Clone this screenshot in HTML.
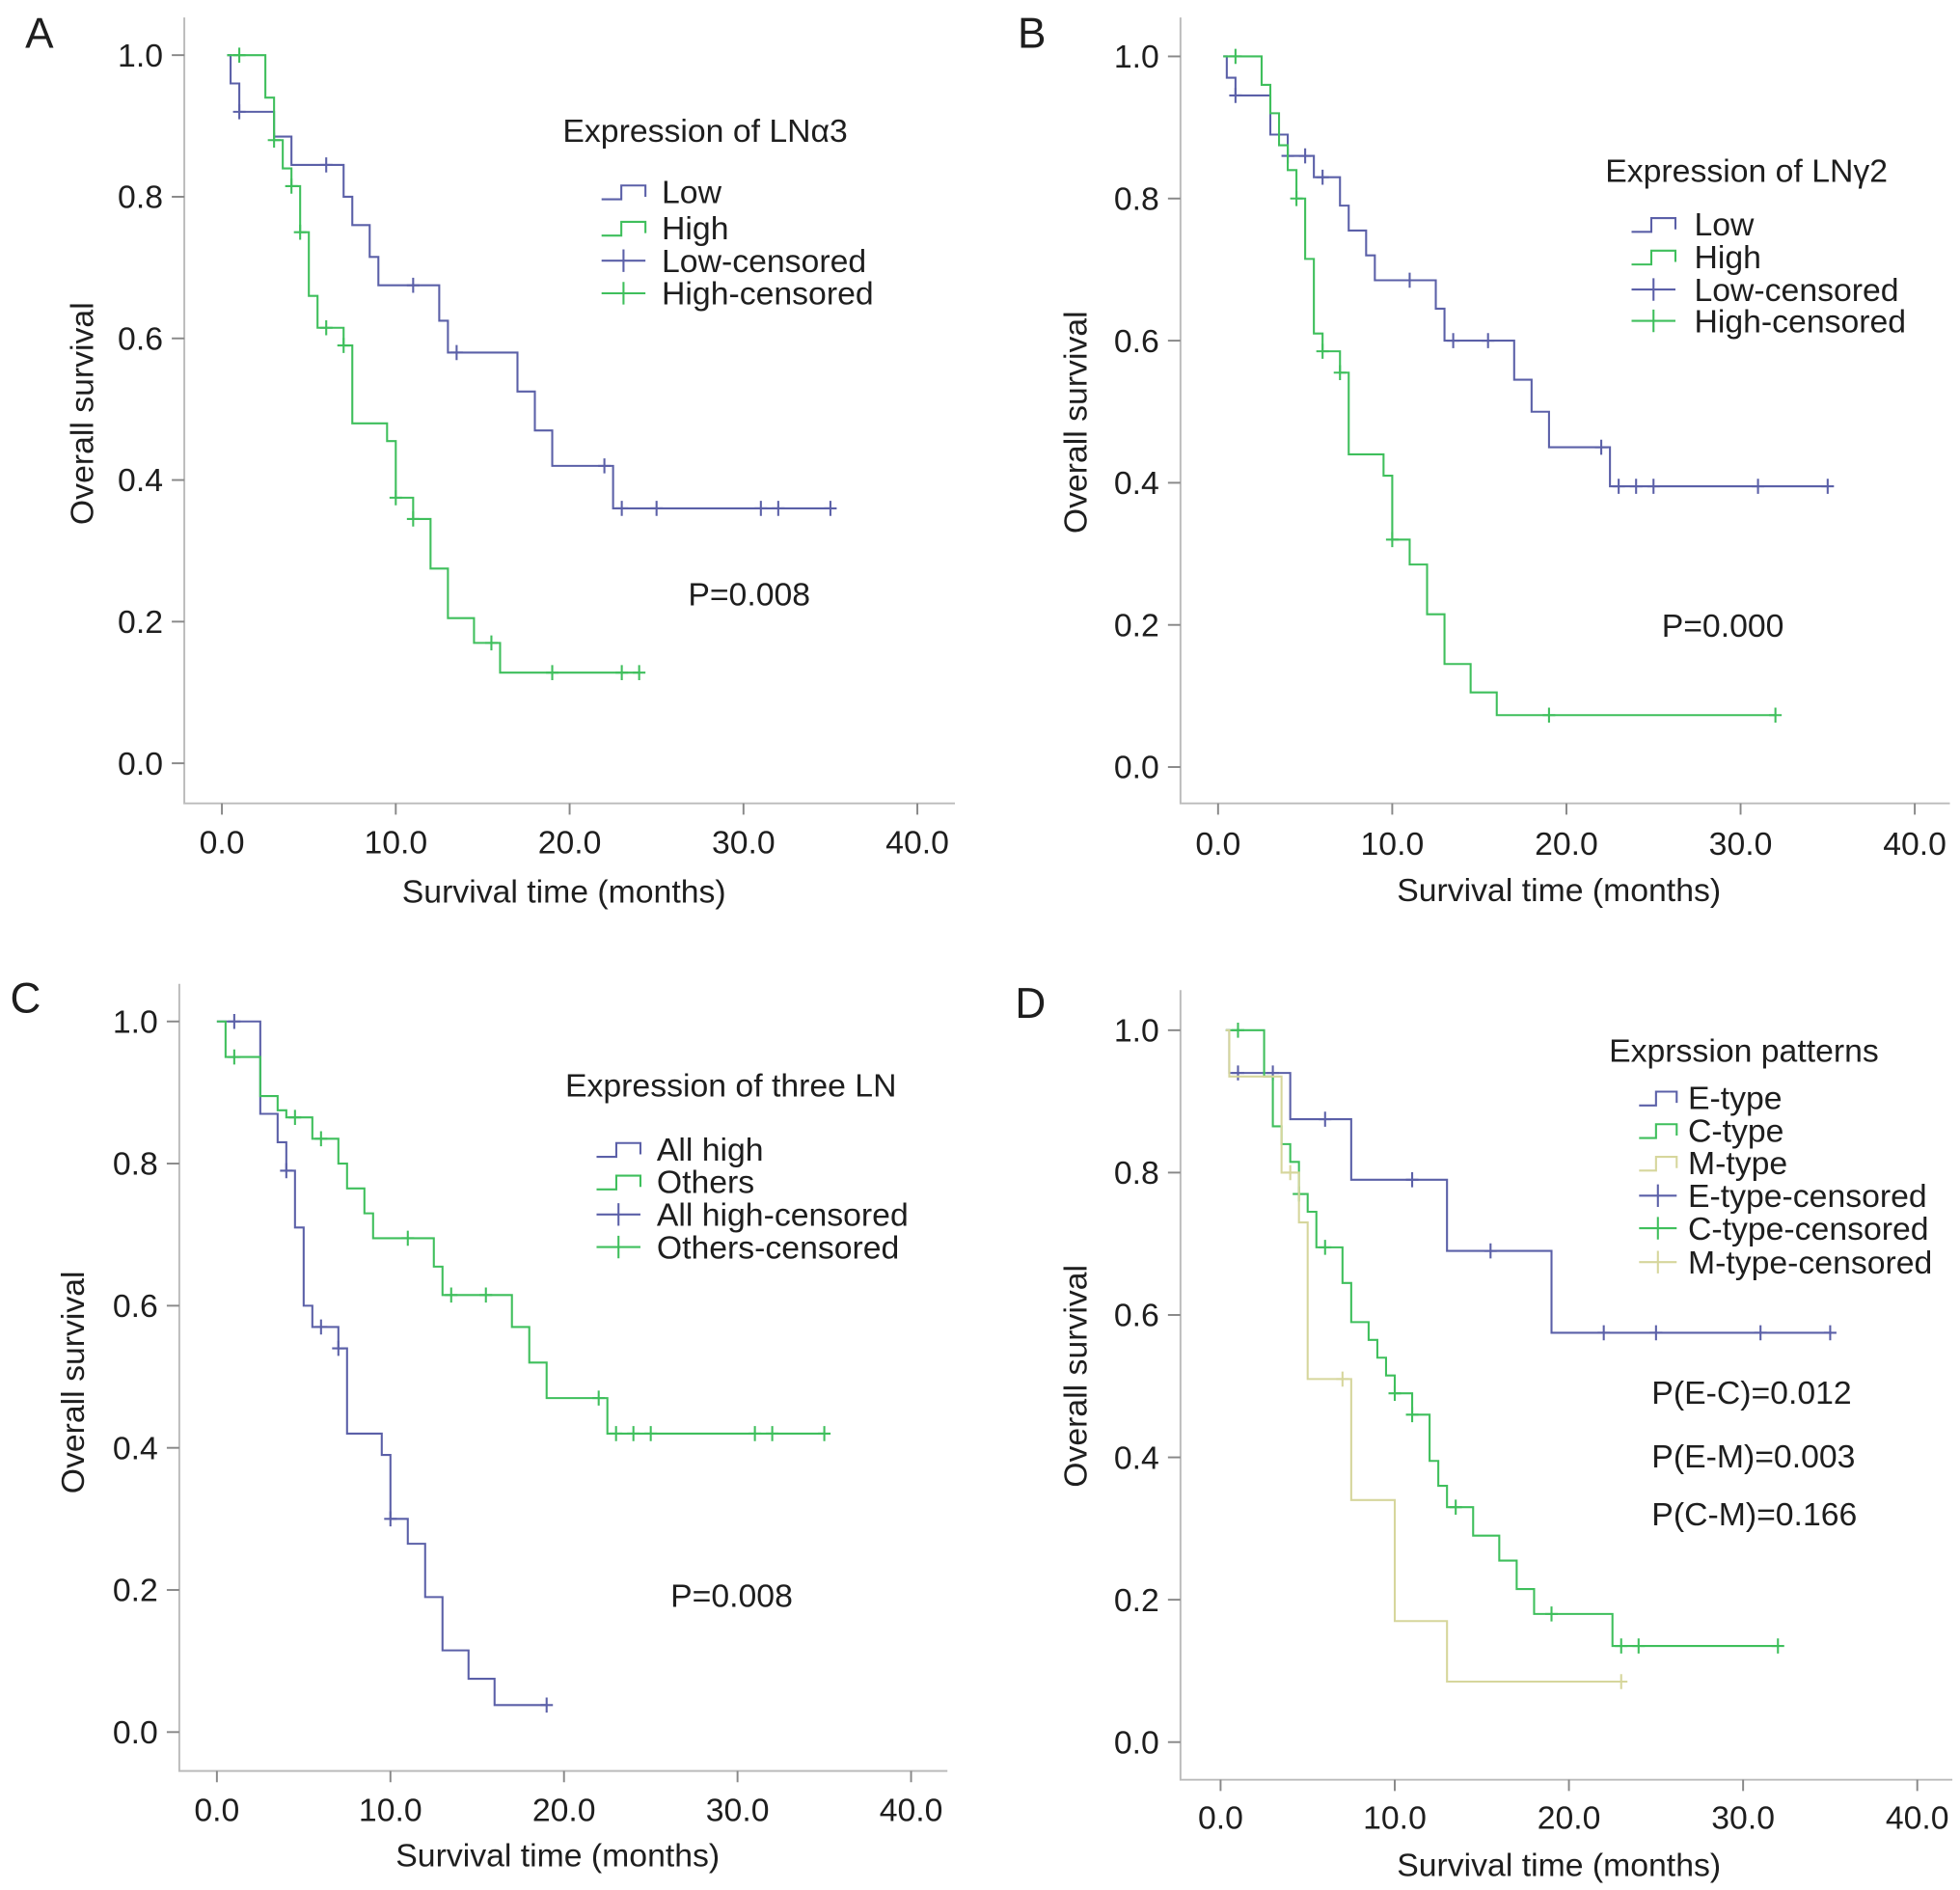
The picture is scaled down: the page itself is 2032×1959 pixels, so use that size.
<!DOCTYPE html>
<html><head><meta charset="utf-8"><style>
html,body{margin:0;padding:0;background:#fff}
svg{display:block}
text{font-family:"Liberation Sans",sans-serif;fill:#1e1e1e}
</style></head><body>
<svg id="fig" width="2032" height="1959" viewBox="0 0 1564 1508" xmlns="http://www.w3.org/2000/svg"></svg>
<script>
// ---- data ----
const xTicks = [0, 10, 20, 30, 40];
const xTickLabels = ["0.0", "10.0", "20.0", "30.0", "40.0"];
const yTicks = [0, 0.2, 0.4, 0.6, 0.8, 1.0];
const yTickLabels = ["0.0", "0.2", "0.4", "0.6", "0.8", "1.0"];

const aLowTimes = [0.3, 0.5, 1, 3, 4, 7, 7.5, 8.5, 9, 12.5, 13, 17, 18, 19, 22.5, 35];
const aLowSurv  = [1.0, 0.96, 0.92, 0.885, 0.845, 0.80, 0.76, 0.715, 0.675, 0.625, 0.58, 0.525, 0.47, 0.42, 0.36, 0.36];
const aLowCensT = [1, 6, 11, 13.5, 22, 23, 25, 31, 32, 35];
const aLowCensS = [0.92, 0.845, 0.675, 0.58, 0.42, 0.36, 0.36, 0.36, 0.36, 0.36];
const aHighTimes = [0.3, 2.5, 3, 3.5, 4, 4.5, 5, 5.5, 7, 7.5, 9.5, 10, 11, 12, 13, 14.5, 16, 24];
const aHighSurv  = [1.0, 0.94, 0.88, 0.84, 0.815, 0.75, 0.66, 0.615, 0.59, 0.48, 0.455, 0.375, 0.345, 0.275, 0.205, 0.17, 0.128, 0.128];
const aHighCensT = [1, 3, 4, 4.5, 6, 7, 10, 11, 15.5, 19, 23, 24];
const aHighCensS = [1.0, 0.88, 0.815, 0.75, 0.615, 0.59, 0.375, 0.345, 0.17, 0.128, 0.128, 0.128];

const bLowTimes = [0.3, 0.5, 1, 3, 4, 5.5, 7, 7.5, 8.5, 9, 12.5, 13, 17, 18, 19, 22.5, 35];
const bLowSurv  = [1.0, 0.97, 0.945, 0.89, 0.86, 0.83, 0.79, 0.755, 0.72, 0.685, 0.645, 0.60, 0.545, 0.50, 0.45, 0.395, 0.395];
const bLowCensT = [1, 4, 5, 6, 11, 13.5, 15.5, 22, 23, 24, 25, 31, 35];
const bLowCensS = [0.945, 0.86, 0.86, 0.83, 0.685, 0.60, 0.60, 0.45, 0.395, 0.395, 0.395, 0.395, 0.395];
const bHighTimes = [0.3, 2.5, 3, 3.5, 4, 4.5, 5, 5.5, 6, 7, 7.5, 9.5, 10, 11, 12, 13, 14.5, 16, 32];
const bHighSurv  = [1.0, 0.96, 0.92, 0.875, 0.84, 0.80, 0.715, 0.61, 0.585, 0.555, 0.44, 0.41, 0.32, 0.285, 0.215, 0.145, 0.105, 0.073, 0.073];
const bHighCensT = [1, 4.5, 6, 7, 10, 19, 32];
const bHighCensS = [1.0, 0.80, 0.585, 0.555, 0.32, 0.073, 0.073];

const cAllTimes = [0, 2.5, 3.5, 4, 4.5, 5, 5.5, 7, 7.5, 9.5, 10, 11, 12, 13, 14.5, 16, 19];
const cAllSurv  = [1.0, 0.87, 0.83, 0.79, 0.71, 0.60, 0.57, 0.54, 0.42, 0.39, 0.30, 0.265, 0.19, 0.115, 0.075, 0.038, 0.038];
const cAllCensT = [1, 4, 6, 7, 10, 19];
const cAllCensS = [1.0, 0.79, 0.57, 0.54, 0.30, 0.038];
const cOthTimes = [0, 0.5, 2.5, 3.5, 4, 5.5, 7, 7.5, 8.5, 9, 12.5, 13, 17, 18, 19, 22.5, 35];
const cOthSurv  = [1.0, 0.95, 0.895, 0.875, 0.865, 0.835, 0.80, 0.765, 0.73, 0.695, 0.655, 0.615, 0.57, 0.52, 0.47, 0.42, 0.42];
const cOthCensT = [1, 4.5, 6, 11, 13.5, 15.5, 22, 23, 24, 25, 31, 32, 35];
const cOthCensS = [0.95, 0.865, 0.835, 0.695, 0.615, 0.615, 0.47, 0.42, 0.42, 0.42, 0.42, 0.42, 0.42];

const dETimes = [0.3, 0.5, 4, 7.5, 13, 19, 35];
const dESurv  = [1.0, 0.94, 0.875, 0.79, 0.69, 0.575, 0.575];
const dECensT = [1, 3, 6, 11, 15.5, 22, 25, 31, 35];
const dECensS = [0.94, 0.94, 0.875, 0.79, 0.69, 0.575, 0.575, 0.575, 0.575];
const dCTimes = [0.3, 2.5, 3, 3.5, 4, 4.5, 5, 5.5, 7, 7.5, 8.5, 9, 9.5, 10, 11, 12, 12.5, 13, 14.5, 16, 17, 18, 22.5, 32];
const dCSurv  = [1.0, 0.935, 0.865, 0.84, 0.815, 0.77, 0.745, 0.695, 0.645, 0.59, 0.565, 0.54, 0.515, 0.49, 0.46, 0.395, 0.36, 0.33, 0.29, 0.255, 0.215, 0.18, 0.135, 0.135];
const dCCensT = [1, 4.5, 6, 10, 11, 13.5, 19, 23, 24, 32];
const dCCensS = [1.0, 0.77, 0.695, 0.49, 0.46, 0.33, 0.18, 0.135, 0.135, 0.135];
const dMTimes = [0.3, 0.5, 2.5, 3.5, 4.5, 5, 7.5, 10, 13, 23];
const dMSurv  = [1.0, 0.935, 0.935, 0.80, 0.73, 0.51, 0.34, 0.17, 0.085, 0.085];
const dMCensT = [4, 7, 23];
const dMCensS = [0.80, 0.51, 0.085];

const BLUE = "#5b60a8", GREEN = "#3fbf5c", YEL = "#d6d69c";
const FS = 26;
const NS = "http://www.w3.org/2000/svg";
const svg = document.getElementById('fig');
function mk(tag, attrs, parent, txt) {
  const e = document.createElementNS(NS, tag);
  for (const k in attrs) e.setAttribute(k, attrs[k]);
  if (txt !== undefined) e.textContent = txt;
  (parent || svg).appendChild(e);
  return e;
}

const panels = [
  {id:"a", letter:"A", lx:20, ly:38, x0:177, x40:732, y0:609, y1:44, axL:147, axT:14, axB:641, axR:762,
   xtY:672, xtitleX:450, xtitleY:711, ytitleX:65, ytitleY:330,
   legTitle:"Expression of LNα3", ltX:449, ltY:113, symX:480, txtX:528, ent:[153,182,208,234],
   pvals:[["P=0.008",549,483]],
   series:[{name:"Low",t:aLowTimes,s:aLowSurv,ct:aLowCensT,cs:aLowCensS,c:BLUE},
           {name:"High",t:aHighTimes,s:aHighSurv,ct:aHighCensT,cs:aHighCensS,c:GREEN}]},
  {id:"b", letter:"B", lx:812, ly:38, x0:972, x40:1528, y0:612, y1:45, axL:942, axT:14, axB:641, axR:1556,
   xtY:673, xtitleX:1244, xtitleY:710, ytitleX:858, ytitleY:337,
   legTitle:"Expression of LNγ2", ltX:1281, ltY:145, symX:1302, txtX:1352, ent:[179,205,231,256],
   pvals:[["P=0.000",1326,508]],
   series:[{name:"Low",t:bLowTimes,s:bLowSurv,ct:bLowCensT,cs:bLowCensS,c:BLUE},
           {name:"High",t:bHighTimes,s:bHighSurv,ct:bHighCensT,cs:bHighCensS,c:GREEN}]},
  {id:"c", letter:"C", lx:8, ly:808, x0:173, x40:727, y0:1382, y1:815, axL:143, axT:785, axB:1413, axR:756,
   xtY:1444, xtitleX:445, xtitleY:1480, ytitleX:58, ytitleY:1103,
   legTitle:"Expression of three LN", ltX:451, ltY:875, symX:476, txtX:524, ent:[917,943,969,995],
   pvals:[["P=0.008",535,1282]],
   series:[{name:"All high",t:cAllTimes,s:cAllSurv,ct:cAllCensT,cs:cAllCensS,c:BLUE},
           {name:"Others",t:cOthTimes,s:cOthSurv,ct:cOthCensT,cs:cOthCensS,c:GREEN}]},
  {id:"d", letter:"D", lx:810, ly:812, x0:974, x40:1530, y0:1390, y1:822, axL:942, axT:790, axB:1420, axR:1558,
   xtY:1450, xtitleX:1244, xtitleY:1488, ytitleX:858, ytitleY:1098,
   legTitle:"Exprssion patterns", ltX:1284, ltY:847, symX:1308, txtX:1347, ent:[876,902,928,954,980,1007],
   pvals:[["P(E-C)=0.012",1318,1120],["P(E-M)=0.003",1318,1171],["P(C-M)=0.166",1318,1217]],
   series:[{name:"E-type",t:dETimes,s:dESurv,ct:dECensT,cs:dECensS,c:BLUE},
           {name:"C-type",t:dCTimes,s:dCSurv,ct:dCCensT,cs:dCCensS,c:GREEN},
           {name:"M-type",t:dMTimes,s:dMSurv,ct:dMCensT,cs:dMCensS,c:YEL}]}
];

panels.forEach(p => {
  const X = v => p.x0 + (p.x40 - p.x0) * v / 40;
  const Y = v => p.y0 + (p.y1 - p.y0) * v;
  const g = mk('g', {});
  
  
  const L = mk('text', {x:p.lx, y:p.ly, 'font-size':34}, g, p.letter);
  
  
  const ax = mk('path', {d:`M${p.axL},${p.axT}V${p.axB}H${p.axR}`, fill:'none', stroke:'#bbb', 'stroke-width':1.5}, g);
  
  
  yTicks.forEach((v, i) => {
    mk('line', {x1:p.axL-10, x2:p.axL, y1:Y(v), y2:Y(v), stroke:'#888', 'stroke-width':1.5}, g);
    const t = mk('text', {x:p.axL-17, y:Y(v)+9, 'font-size':FS, 'text-anchor':'end'}, g, yTickLabels[i]);
    
    
  });
  xTicks.forEach((v, i) => {
    mk('line', {x1:X(v), x2:X(v), y1:p.axB, y2:p.axB+9, stroke:'#888', 'stroke-width':1.5}, g);
    const t = mk('text', {x:X(v), y:p.xtY+9, 'font-size':FS, 'text-anchor':'middle'}, g, xTickLabels[i]);
    
    
  });
  const xt = mk('text', {x:p.xtitleX, y:p.xtitleY+9, 'font-size':FS, 'text-anchor':'middle'}, g, 'Survival time (months)');
  
  
  const yt = mk('text', {x:0, y:0, 'font-size':FS, 'text-anchor':'middle', transform:`translate(${p.ytitleX+9},${p.ytitleY}) rotate(-90)`}, g, 'Overall survival');
  
  

  p.series.forEach(s => {
    let d = `M${X(s.t[0])},${Y(s.s[0])}`;
    for (let i = 1; i < s.t.length; i++) d += `H${X(s.t[i])}V${Y(s.s[i])}`;
    const line = mk('path', {d, fill:'none', stroke:s.c, 'stroke-width':1.6}, g);
    
    
    s.ct.forEach((t, i) => {
      const cx = X(t), cy = Y(s.cs[i]);
      const m = mk('path', {d:`M${cx-5},${cy}H${cx+5}M${cx},${cy-6}V${cy+6}`, stroke:s.c, 'stroke-width':1.6}, g);
      
      
    });
  });

  const lg = mk('g', {}, g);
  
  
  mk('text', {x:p.ltX, y:p.ltY, 'font-size':FS}, lg, p.legTitle);
  const n = p.series.length;
  const w = p.id === 'd' ? 30 : 35;
  p.series.forEach((s, i) => {
    const y = p.ent[i], x = p.symX;
    const e = mk('g', {}, lg);
    
    
    mk('path', {d:`M${x},${y+6}H${x+w*0.45}V${y-5}H${x+w}V${y+4}`, fill:'none', stroke:s.c, 'stroke-width':1.6}, e);
    mk('text', {x:p.txtX, y:y+9, 'font-size':FS}, e, s.name);
    const y2 = p.ent[i+n];
    const e2 = mk('g', {}, lg);
    
    
    mk('path', {d:`M${x},${y2}H${x+w}M${x+w/2},${y2-9}V${y2+9}`, stroke:s.c, 'stroke-width':1.6}, e2);
    mk('text', {x:p.txtX, y:y2+9, 'font-size':FS}, e2, s.name + '-censored');
  });
  p.pvals.forEach(pv => {
    const t = mk('text', {x:pv[1], y:pv[2], 'font-size':FS}, g, pv[0]);
    
    
  });
});
</script>
</body></html>
